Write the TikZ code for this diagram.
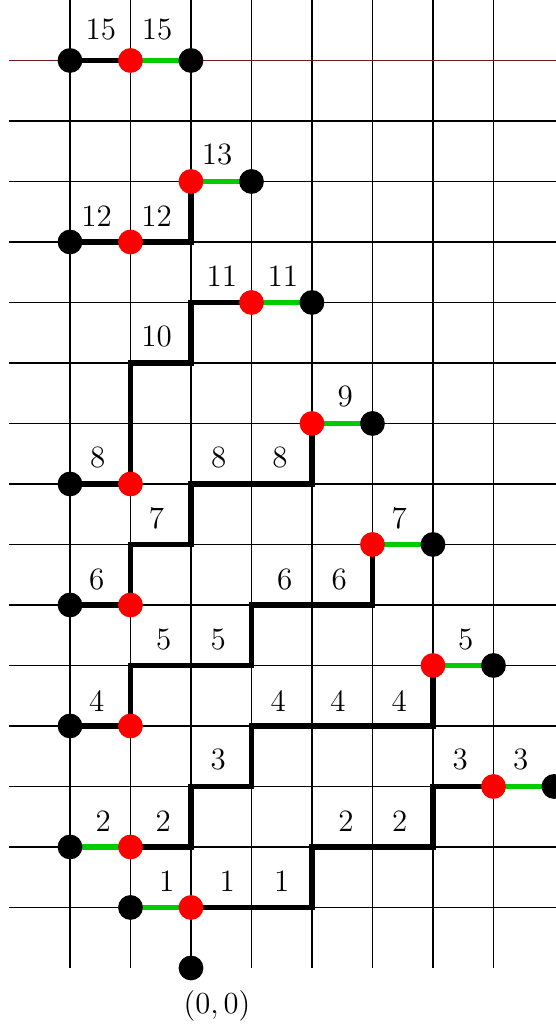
\documentclass[tikz,border=0pt]{standalone}
\definecolor{mygreen}{RGB}{0,204,0}
\definecolor{topline}{RGB}{110,30,30}
\pgfdeclarelayer{bg}
\pgfsetlayers{bg,main}
\begin{document}
\begin{tikzpicture}[
  gridline/.style={line width=0.5pt, black},
  pathline/.style={line width=2.6pt, black, line join=miter},
  greenline/.style={line width=2.5pt, mygreen},
  bdot/.style={circle, fill=black, inner sep=0pt, minimum size=0.41cm},
  rdot/.style={circle, fill=red, inner sep=0pt, minimum size=0.41cm},
  lab/.style={font=\fontsize{14.6}{17}\selectfont, inner sep=0pt}
]
\useasboundingbox (-3.157,-1.025) rectangle (6.017,16.0);

% dots (nodes)
\node[bdot] (b0) at (0,0) {};
\node[bdot] (b1) at (-1,1) {};  \node[rdot] (r1) at (0,1) {};
\node[bdot] (b2) at (-2,2) {};  \node[rdot] (r2) at (-1,2) {};
\node[rdot] (r3) at (5,3) {};   \node[bdot] (b3) at (6,3) {};
\node[bdot] (b4) at (-2,4) {};  \node[rdot] (r4) at (-1,4) {};
\node[rdot] (r5) at (4,5) {};   \node[bdot] (b5) at (5,5) {};
\node[bdot] (b6) at (-2,6) {};  \node[rdot] (r6) at (-1,6) {};
\node[rdot] (r7) at (3,7) {};   \node[bdot] (b7) at (4,7) {};
\node[bdot] (b8) at (-2,8) {};  \node[rdot] (r8) at (-1,8) {};
\node[rdot] (r9) at (2,9) {};   \node[bdot] (b9) at (3,9) {};
\node[rdot] (r11) at (1,11) {}; \node[bdot] (b11) at (2,11) {};
\node[bdot] (b12) at (-2,12) {}; \node[rdot] (r12) at (-1,12) {};
\node[rdot] (r13) at (0,13) {}; \node[bdot] (b13) at (1,13) {};
\node[bdot] (b15a) at (-2,15) {}; \node[rdot] (r15) at (-1,15) {}; \node[bdot] (b15b) at (0,15) {};

\begin{pgfonlayer}{bg}
% grid
\foreach \x in {-2,...,5} \draw[gridline] (\x,0) -- (\x,16.1);
\foreach \y in {1,...,14} \draw[gridline] (-3,\y) -- (6.1,\y);
\draw[line width=0.6pt, topline] (-3,15) -- (6.1,15);

% green edges
\draw[greenline] (b1.center) -- (r1.center);
\draw[greenline] (b2.center) -- (r2.center);
\draw[greenline] (r3.center) -- (b3.center);
\draw[greenline] (r5.center) -- (b5.center);
\draw[greenline] (r7.center) -- (b7.center);
\draw[greenline] (r9.center) -- (b9.center);
\draw[greenline] (r11.center) -- (b11.center);
\draw[greenline] (r13.center) -- (b13.center);
\draw[greenline] (r15.center) -- (b15b.center);

% black short edges
\draw[pathline] (b4.center) -- (r4.center);
\draw[pathline] (b6.center) -- (r6.center);
\draw[pathline] (b8.center) -- (r8.center);
\draw[pathline] (b12.center) -- (r12.center);
\draw[pathline] (b15a.center) -- (r15.center);

% black lattice paths
\draw[pathline] (r1.center) -- (2,1) -- (2,2) -- (4,2) -- (4,3) -- (r3.center);
\draw[pathline] (r2.center) -- (0,2) -- (0,3) -- (1,3) -- (1,4) -- (4,4) -- (r5.center);
\draw[pathline] (r4.center) -- (-1,5) -- (1,5) -- (1,6) -- (3,6) -- (r7.center);
\draw[pathline] (r6.center) -- (-1,7) -- (0,7) -- (0,8) -- (2,8) -- (r9.center);
\draw[pathline] (r8.center) -- (-1,10) -- (0,10) -- (0,11) -- (r11.center);
\draw[pathline] (r12.center) -- (0,12) -- (r13.center);
\end{pgfonlayer}

% labels
\node[lab] (l1a) at (-0.40,1.44) {1};
\node[lab] (l1b) at (0.60,1.44) {1};
\node[lab] (l1c) at (1.50,1.44) {1};
\node[lab] (l2a) at (-1.45,2.43) {2};
\node[lab] (l2b) at (-0.46,2.43) {2};
\node[lab] (l2c) at (2.56,2.43) {2};
\node[lab] (l2d) at (3.45,2.43) {2};
\node[lab] (l3a) at (0.45,3.44) {3};
\node[lab] (l3b) at (4.45,3.44) {3};
\node[lab] (l3c) at (5.45,3.44) {3};
\node[lab] (l4a) at (-1.56,4.42) {4};
\node[lab] (l4b) at (1.44,4.42) {4};
\node[lab] (l4c) at (2.43,4.42) {4};
\node[lab] (l4d) at (3.44,4.42) {4};
\node[lab] (l5a) at (-0.45,5.43) {5};
\node[lab] (l5b) at (0.45,5.43) {5};
\node[lab] (l5c) at (4.54,5.43) {5};
\node[lab] (l6a) at (-1.56,6.42) {6};
\node[lab] (l6b) at (1.55,6.42) {6};
\node[lab] (l6c) at (2.45,6.42) {6};
\node[lab] (l7a) at (-0.57,7.44) {7};
\node[lab] (l7b) at (3.44,7.44) {7};
\node[lab] (l8a) at (-1.54,8.43) {8};
\node[lab] (l8b) at (0.46,8.43) {8};
\node[lab] (l8c) at (1.47,8.43) {8};
\node[lab] (l9) at (2.55,9.44) {9};
\node[lab] (l10) at (-0.57,10.43) {10};
\node[lab] (l11a) at (0.51,11.44) {11};
\node[lab] (l11b) at (1.52,11.44) {11};
\node[lab] (l12a) at (-1.56,12.42) {12};
\node[lab] (l12b) at (-0.57,12.42) {12};
\node[lab] (l13) at (0.43,13.44) {13};
\node[lab] (l15a) at (-1.49,15.52) {15};
\node[lab] (l15b) at (-0.56,15.52) {15};
\node[lab] (l00) at (0.43,-0.62) {$(0,0)$};
\end{tikzpicture}
\end{document}
